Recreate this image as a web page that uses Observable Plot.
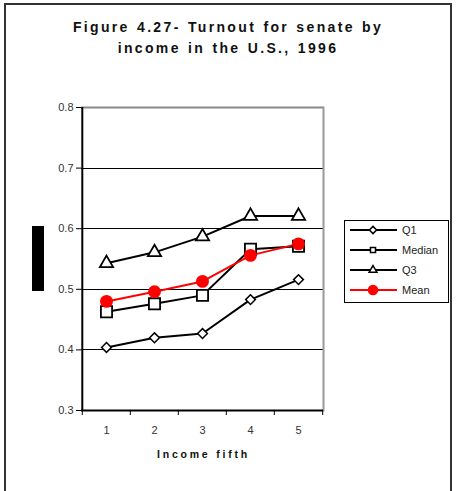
<!DOCTYPE html>
<html>
<head>
<meta charset="utf-8">
<script src="https://cdn.jsdelivr.net/npm/d3@7"></script>
<script src="https://cdn.jsdelivr.net/npm/@observablehq/plot@0.6"></script>
<style>
  html, body { margin: 0; padding: 0; background: #fff; }
  #frame { position: relative; width: 456px; height: 491px; overflow: hidden; font-family: "Liberation Sans", Arial, sans-serif; }
  #border { position: absolute; left: 4px; top: 3px; width: 448px; height: 500px; border: 2px solid #333; box-sizing: border-box; }
  #title { position: absolute; left: 0; top: 17px; width: 456px; text-align: center; font-weight: bold; font-size: 14px; letter-spacing: 2.35px; word-spacing: 1px; line-height: 21px; color: #111; }
  #chart { position: absolute; left: 0; top: 0; }
  #ylabel { position: absolute; left: 32px; top: 226px; width: 12px; height: 65px; background: #000; }
  #legend { position: absolute; left: 344px; top: 220px; }
  .x-title text { letter-spacing: 2.8px; }
</style>
</head>
<body>
<div id="frame">
  <div id="border"></div>
  <div id="title">Figure 4.27- Turnout for senate by<br>income in the U.S., 1996</div>
  <div id="chart"></div>
  <div id="ylabel"></div>
  <div id="legend"></div>
</div>
<script>
// Income fifths and turnout statistics per fifth
const fifths = ["1", "2", "3", "4", "5"];
const q1     = [0.404, 0.420, 0.427, 0.483, 0.516];
const median = [0.463, 0.476, 0.490, 0.566, 0.571];
const q3     = [0.543, 0.561, 0.587, 0.621, 0.621];
const mean   = [0.480, 0.496, 0.513, 0.556, 0.575];
const yTicks = [0.3, 0.4, 0.5, 0.6, 0.7, 0.8];
const seriesNames = ["Q1", "Median", "Q3", "Mean"];

const seriesValues = [q1, median, q3, mean];
const rows = seriesNames.flatMap((name, i) =>
  fifths.map((f, j) => ({series: name, fifth: f, value: seriesValues[i][j]}))
);
const bySeries = name => rows.filter(d => d.series === name);

// a square turned 45°, equal in width and height
const rotatedSquare = {
  draw(context, size) {
    const h = Math.sqrt(size / 2);
    context.moveTo(0, -h);
    context.lineTo(h, 0);
    context.lineTo(0, h);
    context.lineTo(-h, 0);
    context.closePath();
  }
};

const half = 24.2; // half a band, to put x ticks on the band edges

const chart = Plot.plot({
  width: 456,
  height: 491,
  marginLeft: 81,
  marginRight: 133,
  marginTop: 107,
  marginBottom: 81,
  style: {fontFamily: "Liberation Sans, Arial, sans-serif", fontSize: "11px", background: "transparent", overflow: "visible"},
  x: {type: "band", domain: fifths, padding: 0, label: null},
  y: {domain: [0.3, 0.8], ticks: yTicks, label: null},
  marks: [
    // horizontal gridlines
    Plot.ruleY(yTicks.slice(1, -1), {stroke: "#000", strokeWidth: 1, shapeRendering: "crispEdges"}),
    Plot.ruleY([0.8], {stroke: "#888", strokeWidth: 2}),
    Plot.frame({anchor: "right", stroke: "#999", strokeWidth: 2}),
    // axes
    Plot.axisY({ticks: yTicks, tickFormat: d3.format(".1f"), tickSize: 5, tickPadding: 3, stroke: "#000", color: "#333", fontSize: 11}),
    Plot.ruleX([fifths[0]], {x: d => d, dx: -half, y1: 0.3, y2: 0.8, stroke: "#000", strokeWidth: 2}),
    Plot.ruleY([0.3], {stroke: "#000", strokeWidth: 2}),
    Plot.axisX({tickSize: 0, tickPadding: 16, color: "#333", fontSize: 11}),
    Plot.ruleX(fifths, {x: d => d, dx: -half, y1: 0.3, y2: 0.3, insetBottom: -5, stroke: "#000"}),
    Plot.ruleX([fifths[fifths.length - 1]], {x: d => d, dx: half, y1: 0.3, y2: 0.3, insetBottom: -5, stroke: "#000"}),
    Plot.text(["Income fifth"], {frameAnchor: "bottom", dy: 47, dx: 1, fontWeight: "bold", fontSize: 10.5, fill: "#111", className: "x-title"}),
    // series lines
    Plot.line(bySeries("Q1"), {x: "fifth", y: "value", stroke: "#000", strokeWidth: 2}),
    Plot.line(bySeries("Median"), {x: "fifth", y: "value", stroke: "#000", strokeWidth: 2}),
    Plot.line(bySeries("Q3"), {x: "fifth", y: "value", stroke: "#000", strokeWidth: 2}),
    Plot.line(bySeries("Mean"), {x: "fifth", y: "value", stroke: "#f00", strokeWidth: 2}),
    // markers
    Plot.dot(bySeries("Q1"), {x: "fifth", y: "value", symbol: rotatedSquare, r: 3.9, fill: "#fff", stroke: "#000", strokeWidth: 1.5}),
    Plot.dot(bySeries("Median"), {x: "fifth", y: "value", symbol: "square", r: 6.3, fill: "#fff", stroke: "#000", strokeWidth: 1.8}),
    Plot.dot(bySeries("Q3"), {x: "fifth", y: "value", symbol: "triangle", r: 4.9, fill: "#fff", stroke: "#000", strokeWidth: 1.8}),
    Plot.dot(bySeries("Mean"), {x: "fifth", y: "value", symbol: "circle", r: 5.7, fill: "#f00", stroke: "#f00"})
  ]
});
document.getElementById("chart").appendChild(chart);

// legend
const legendSymbols = {Q1: rotatedSquare, Median: d3.symbolSquare, Q3: d3.symbolTriangle, Mean: d3.symbolCircle};
const legendColors = {Q1: "#000", Median: "#000", Q3: "#000", Mean: "#f00"};
const lg = d3.select("#legend").append("svg").attr("width", 106).attr("height", 84);
lg.append("rect").attr("x", 0.5).attr("y", 0.5).attr("width", 104).attr("height", 82)
  .attr("fill", "#fff").attr("stroke", "#000");
seriesNames.forEach((name, i) => {
  const cy = 10 + i * 20;
  const g = lg.append("g");
  g.append("line").attr("x1", 6).attr("x2", 53).attr("y1", cy).attr("y2", cy)
    .attr("stroke", legendColors[name]).attr("stroke-width", 2);
  const isMean = name === "Mean";
  g.append("path")
    .attr("d", d3.symbol(legendSymbols[name], isMean ? 64 : 26)())
    .attr("transform", `translate(29,${cy})`)
    .attr("fill", isMean ? "#f00" : "#fff")
    .attr("stroke", legendColors[name]).attr("stroke-width", 1.5);
  g.append("text").attr("x", 58).attr("y", cy + 4).text(name)
    .attr("font-size", 11).attr("fill", "#222")
    .attr("font-family", "Liberation Sans, Arial, sans-serif");
});
</script>
</body>
</html>
